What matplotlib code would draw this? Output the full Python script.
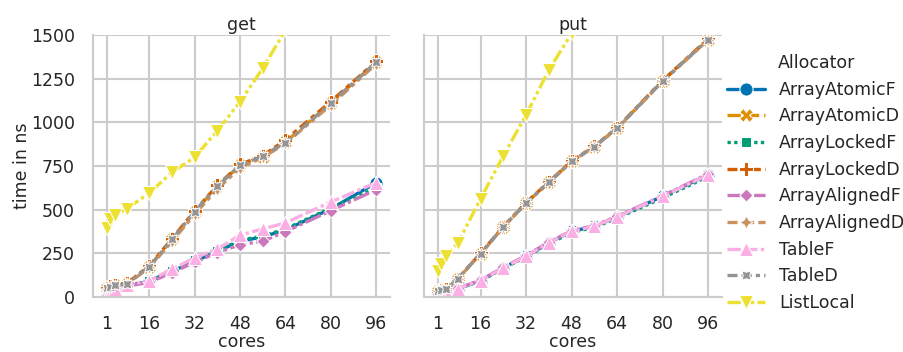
import matplotlib
matplotlib.use("Agg")
import matplotlib.pyplot as plt
import pandas as pd
import seaborn as sns

cores = [1, 2, 4, 8, 16, 24, 32, 40, 48, 56, 64, 80, 96]
allocators = ["ArrayAtomicF", "ArrayAtomicD", "ArrayLockedF", "ArrayLockedD",
              "ArrayAlignedF", "ArrayAlignedD", "TableF", "TableD", "ListLocal"]

get_vals = {
    "ArrayAtomicF": [5, 14, 40, 65, 90, 148, 205, 262, 320, 345, 385, 505, 655],
    "ArrayAtomicD": [50, 60, 68, 75, 175, 330, 490, 635, 755, 805, 888, 1110, 1345],
    "ArrayLockedF": [6, 15, 42, 66, 92, 150, 210, 265, 325, 350, 390, 510, 625],
    "ArrayLockedD": [52, 62, 70, 78, 180, 335, 495, 640, 760, 810, 900, 1120, 1350],
    "ArrayAlignedF": [4, 12, 38, 62, 85, 140, 200, 255, 300, 320, 375, 495, 615],
    "ArrayAlignedD": [48, 58, 66, 73, 170, 320, 475, 620, 740, 800, 880, 1100, 1335],
    "TableF": [8, 18, 44, 70, 95, 160, 225, 275, 355, 390, 425, 545, 655],
    "TableD": [50, 60, 67, 76, 175, 330, 490, 635, 755, 808, 885, 1110, 1345],
    "ListLocal": [398, 450, 472, 506, 596, 716, 801, 954, 1119, 1310, 1530, 1900, 2300],
}

put_vals = {
    "ArrayAtomicF": [15, 21, 29, 48, 95, 168, 234, 310, 377, 405, 459, 577, 700],
    "ArrayAtomicD": [34, 40, 44, 105, 249, 402, 539, 657, 777, 862, 967, 1237, 1475],
    "ArrayLockedF": [14, 20, 28, 46, 92, 165, 230, 305, 370, 400, 452, 568, 690],
    "ArrayLockedD": [35, 41, 45, 106, 250, 404, 541, 659, 779, 864, 969, 1240, 1478],
    "ArrayAlignedF": [16, 22, 30, 50, 97, 170, 238, 314, 380, 410, 462, 580, 705],
    "ArrayAlignedD": [33, 39, 43, 104, 247, 400, 537, 655, 775, 860, 965, 1235, 1472],
    "TableF": [15, 21, 29, 48, 95, 168, 234, 310, 377, 405, 459, 577, 700],
    "TableD": [34, 40, 44, 105, 249, 402, 539, 657, 777, 862, 967, 1237, 1475],
    "ListLocal": [148, 190, 235, 310, 563, 809, 1043, 1300, 1510, 1750, 2000, 2500, 3000],
}

rows = []
for op, vals in (("get", get_vals), ("put", put_vals)):
    for name in allocators:
        for c, v in zip(cores, vals[name]):
            rows.append({"op": op, "Allocator": name, "cores": c, "time in ns": v})
df = pd.DataFrame(rows)

sns.set_theme(style="whitegrid", palette="colorblind")
plt.rcParams["font.family"] = ["DejaVu Sans"]
plt.rcParams["grid.linewidth"] = 1.5
plt.rcParams["grid.color"] = "#cccccc"
fs = 12.5

fig = plt.figure(figsize=(9.04, 3.52), dpi=100)
ax1 = fig.add_axes([0.1029, 0.156, 0.3285, 0.744])
ax2 = fig.add_axes([0.469, 0.156, 0.3296, 0.744], sharey=ax1)

for ax, op in ((ax1, "get"), (ax2, "put")):
    sns.lineplot(data=df[df["op"] == op], x="cores", y="time in ns",
                 hue="Allocator", style="Allocator", hue_order=allocators,
                 style_order=allocators, markers=True, dashes=True,
                 linewidth=2.4, markersize=9.5, ax=ax, legend=(op == "get"))
    ax.set_title(op, fontsize=fs, pad=4)
    ax.set_xlabel("cores", fontsize=fs, labelpad=0)
    ax.set_xticks([1, 16, 32, 48, 64, 80, 96])
    ax.set_ylim(0, 1500)
    ax.set_xlim(-3.9, 100.9)
    ax.tick_params(labelsize=fs, pad=7)
    for s in ("top", "right"):
        ax.spines[s].set_visible(False)
    for s in ("left", "bottom"):
        ax.spines[s].set_color("#cccccc")
        ax.spines[s].set_linewidth(1.5)

ax1.set_ylabel("time in ns", fontsize=fs, labelpad=0)
ax2.set_ylabel("")
ax2.tick_params(labelleft=False)

handles, labels = ax1.get_legend_handles_labels()
ax1.get_legend().remove()
fig.legend(handles, labels, title="Allocator", loc="center left",
           bbox_to_anchor=(0.787, 0.48), frameon=False, fontsize=fs,
           title_fontsize=fs, handlelength=2.2, labelspacing=0.5)

fig.savefig("out.png", dpi=100)
